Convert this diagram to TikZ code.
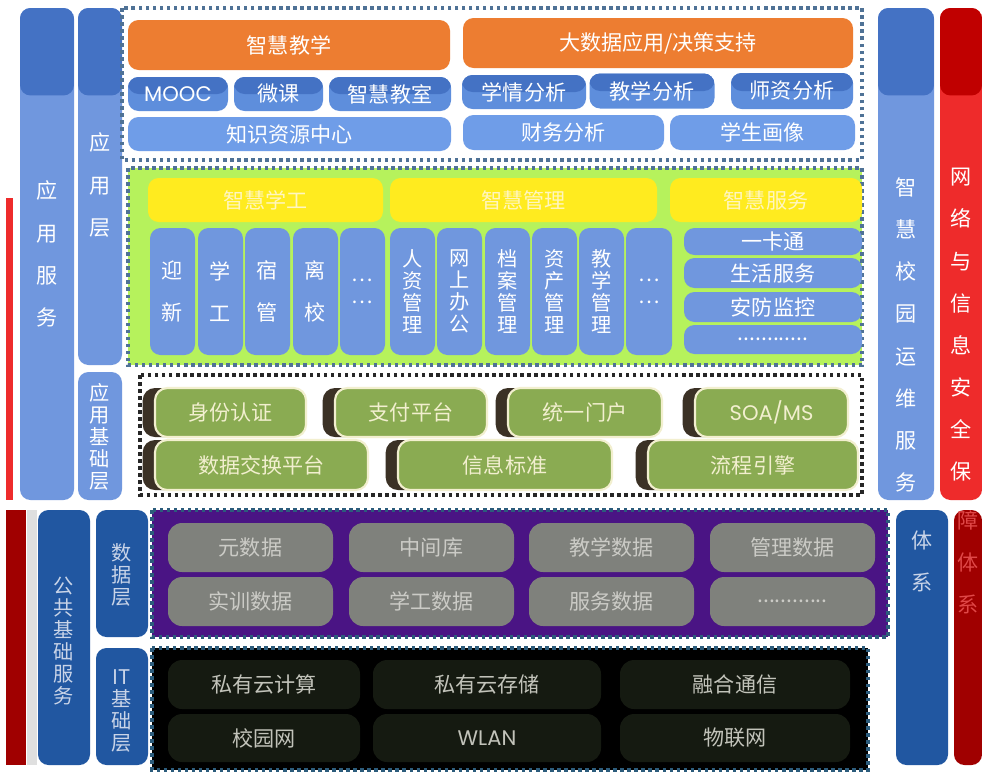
\documentclass[tikz,border=0pt]{standalone}
\usepackage{fontspec}
\setmainfont{Noto Sans CJK SC}
\newfontfamily\geofont{Poppins}
\usetikzlibrary{positioning}

\definecolor{orangeA}{HTML}{ED7D31}
\definecolor{blueDk}{HTML}{4472C4}
\definecolor{blueMd}{HTML}{5E8EDC}
\definecolor{blueLt}{HTML}{6F9DE8}
\definecolor{colBlue}{HTML}{7097DE}
\definecolor{limeBg}{HTML}{B6F25C}
\definecolor{yellowA}{HTML}{FFEB1F}
\definecolor{yellowTx}{HTML}{FFF6C0}
\definecolor{oliveA}{HTML}{8AAB52}
\definecolor{creamA}{HTML}{F2EFCF}
\definecolor{capBrown}{HTML}{3B3125}
\definecolor{purpleA}{HTML}{4A1484}
\definecolor{grayBox}{HTML}{7F817C}
\definecolor{grayTx}{HTML}{CBCBC6}
\definecolor{itBox}{HTML}{151A11}
\definecolor{itTx}{HTML}{C2C3BA}
\definecolor{navyA}{HTML}{2157A1}
\definecolor{navyTx}{HTML}{C9D4E8}
\definecolor{redA}{HTML}{EE2B2B}
\definecolor{redDk}{HTML}{C00000}
\definecolor{redLw}{HTML}{A00000}
\definecolor{redTx}{HTML}{E04848}
\definecolor{frameBlue}{HTML}{4F7296}
\definecolor{frameTeal}{HTML}{2C5C7C}

\begin{document}
\begin{tikzpicture}[
    x=0.02cm, y=-0.02cm,
    every node/.style={font=\fontsize{12}{14}\selectfont, inner sep=0pt},
    sz/.style 2 args={minimum width=#1*0.02cm, minimum height=#2*0.02cm},
    dotbox/.style={draw=#1, line width=2pt, dash pattern=on 2pt off 2pt},
    topdark/.style={path picture={\fill[#1] (path picture bounding box.north west) rectangle ([yshift=-1.75cm]path picture bounding box.north east);}},
    halfdark/.style={path picture={\fill[blueDk] (path picture bounding box.north west) rectangle (path picture bounding box.east);}},
    obox/.style={fill=orangeA, rounded corners=6pt, text=white},
    bbox/.style={fill=blueMd, halfdark, rounded corners=6pt, text=white},
    lbox/.style={fill=blueLt, rounded corners=6pt, text=white},
    ybox/.style={fill=yellowA, rounded corners=6pt, text=yellowTx},
    cbox/.style={fill=colBlue, rounded corners=6pt, text=white, align=center},
    gbox/.style={fill=oliveA, draw=creamA, line width=1.2pt, rounded corners=7pt, text=creamA,
        preaction={fill=capBrown, draw=none, transform canvas={xshift=-7pt}}},
    dbox/.style={fill=grayBox, rounded corners=8pt, text=grayTx},
    ibox/.style={fill=itBox, rounded corners=8pt, text=itTx},
    vcol/.style={rounded corners=6pt},
    wide/.style={font=\fontsize{12}{24}\selectfont, align=center},
    tight/.style={font=\fontsize{11.5}{12.5}\selectfont, align=center}
]
    \useasboundingbox (0,0) rectangle (982,775);
    \fill[white] (0,0) rectangle (982,775);

    % Left side columns
    \fill[redA] (6,198) rectangle (13,500);
    \node[vcol, fill=colBlue, topdark=blueDk, sz={54}{492}] (yyfw) at (47,254) {};
    \node[wide, text=white] (yyfw-t) at (47,254) {应\\用\\服\\务};
    \node[vcol, fill=colBlue, topdark=blueDk, sz={44}{357}] (yyc) at (100,186.5) {};
    \node[wide, text=white] (yyc-t) at (100,185) {应\\用\\层};
    \node[vcol, fill=colBlue, sz={44}{128}] (yyjc) at (100,436) {};
    \node[tight, text=white] (yyjc-t) at (100,437) {应\\用\\基\\础\\层};

    \fill[redLw] (6,510) rectangle (26,765);
    \fill[gray!25] (27,510) rectangle (37,765);
    \node[vcol, fill=navyA, sz={52}{255}] (ggjc) at (64,637.5) {};
    \node[tight, text=navyTx] (ggjc-t) at (64,641) {公\\共\\基\\础\\服\\务};
    \node[vcol, fill=navyA, sz={52}{127}] (sjc) at (122,573.5) {};
    \node[tight, text=navyTx] (sjc-t) at (122,575) {数\\据\\层};
    \node[vcol, fill=navyA, sz={52}{117}] (itc) at (122,706.5) {};
    \node[tight, text=navyTx] (itc-t) at (122,711) {IT\\基\\础\\层};

    % Right side columns
    \node[vcol, fill=colBlue, topdark=blueDk, sz={56}{492}] (ywfw) at (906,254) {};
    \node[wide, text=white] (ywfw-t) at (906,335) {智\\慧\\校\\园\\运\\维\\服\\务};
    \node[vcol, fill=navyA, sz={52}{255}] (ywtx) at (922,637.5) {};
    \node[wide, text=navyTx] (ywtx-t) at (922,561) {体\\系};
    \node[vcol, fill=redA, topdark=redDk, sz={42}{492}] (aq) at (961,254) {};
    \node[wide, text=white] (aq-t) at (961,325) {网\\络\\与\\信\\息\\安\\全\\保};
    \node[vcol, fill=redLw, sz={28}{255}] (aqtx) at (968,637.5) {};
    \node[wide, text=redTx] (aqtx-t) at (968,562) {障\\体\\系};

    % Application layer: teaching and big data
    \draw[dotbox=frameBlue] (122,8) rectangle (862,160);
    \node[obox, sz={322}{50}] (zhjx) at (289,45) {智慧教学};
    \node[obox, sz={390}{50}] (dsj) at (658,43) {大数据应用/决策支持};
    \node[bbox, sz={100}{34}] (mooc) at (178,94) {\geofont MOOC};
    \node[bbox, sz={89}{34}] (wk) at (278.5,94) {微课};
    \node[bbox, sz={122}{34}] (zhjs) at (390,94) {智慧教室};
    \node[bbox, sz={124}{34}] (xqfx) at (524,92) {学情分析};
    \node[bbox, sz={125}{35}] (jxfx) at (652,91) {教学分析};
    \node[bbox, sz={122}{36}] (szfx) at (792,91) {师资分析};
    \node[lbox, sz={323}{34}] (zszy) at (289.5,134) {知识资源中心};
    \node[lbox, sz={201}{35}] (cwfx) at (563.5,132.5) {财务分析};
    \node[lbox, sz={185}{35}] (xshx) at (762.5,132.5) {学生画像};

    % Application layer: student affairs, management, services
    \fill[limeBg] (128,168) rectangle (862,365);
    \draw[dotbox=frameBlue] (128,168) rectangle (862,365);
    \node[ybox, sz={235}{44}] (zhxg) at (265.5,200) {智慧学工};
    \node[ybox, sz={267}{44}] (zhgl) at (523.5,200) {智慧管理};
    \node[ybox, sz={192}{44}] (zhfw) at (766,200) {智慧服务};

    \node[cbox, wide, sz={45}{127}] (yx) at (172.5,291.5) {迎\\新};
    \node[cbox, wide, sz={45}{127}] (xg) at (220.5,291.5) {学\\工};
    \node[cbox, wide, sz={45}{127}] (sg) at (267.5,291.5) {宿\\管};
    \node[cbox, wide, sz={45}{127}] (lx) at (315.5,291.5) {离\\校};
    \node[cbox, tight, sz={45}{127}] (xgmore) at (362.5,291.5) {…\\…};

    \node[cbox, tight, sz={45}{127}] (rzgl) at (412.5,291.5) {人\\资\\管\\理};
    \node[cbox, tight, sz={45}{127}] (wsbg) at (459.5,291.5) {网\\上\\办\\公};
    \node[cbox, tight, sz={45}{127}] (dagl) at (507.5,291.5) {档\\案\\管\\理};
    \node[cbox, tight, sz={45}{127}] (zcgl) at (554.5,291.5) {资\\产\\管\\理};
    \node[cbox, tight, sz={45}{127}] (jxgl) at (601.5,291.5) {教\\学\\管\\理};
    \node[cbox, tight, sz={46}{127}] (glmore) at (649,291.5) {…\\…};

    \node[cbox, sz={178}{27}] (ykt) at (773,241.5) {一卡通};
    \node[cbox, sz={178}{30}] (shfw) at (773,273) {生活服务};
    \node[cbox, sz={178}{30}] (afjk) at (773,307) {安防监控};
    \node[cbox, sz={178}{29}] (fwmore) at (773,339.5) {............};

    % Application foundation layer
    \draw[dotbox=black!85] (140,375) rectangle (862,495);
    \node[gbox, sz={151}{49}] (sfrz) at (230.5,412.5) {身份认证};
    \node[gbox, sz={152}{49}] (zfpt) at (411,412.5) {支付平台};
    \node[gbox, sz={154}{49}] (tymh) at (585,412.5) {统一门户};
    \node[gbox, sz={153}{49}] (soa) at (771.5,412.5) {\geofont SOA/MS};
    \node[gbox, sz={213}{50}] (sjjh) at (261.5,465) {数据交换平台};
    \node[gbox, sz={214}{50}] (xxbz) at (505,465) {信息标准};
    \node[gbox, sz={210}{50}] (lcyq) at (753,465) {流程引擎};

    % Data layer
    \fill[purpleA] (152,510) rectangle (888,637);
    \draw[dotbox=frameTeal] (152,510) rectangle (888,637);
    \node[dbox, sz={165}{49}] (ysj) at (250.5,547.5) {元数据};
    \node[dbox, sz={165}{49}] (zjk) at (431.5,547.5) {中间库};
    \node[dbox, sz={165}{49}] (jxsj) at (611.5,547.5) {教学数据};
    \node[dbox, sz={165}{49}] (glsj) at (792.5,547.5) {管理数据};
    \node[dbox, sz={165}{49}] (sxsj) at (250.5,601.5) {实训数据};
    \node[dbox, sz={165}{49}] (xgsj) at (431.5,601.5) {学工数据};
    \node[dbox, sz={165}{49}] (fwsj) at (611.5,601.5) {服务数据};
    \node[dbox, sz={165}{49}] (sjmore) at (792.5,601.5) {............};

    % IT infrastructure layer
    \fill[black] (152,648) rectangle (868,770);
    \draw[dotbox=frameTeal] (152,648) rectangle (868,770);
    \node[ibox, sz={192}{49}] (yjs) at (264,684.5) {私有云计算};
    \node[ibox, sz={228}{49}] (ycc) at (487,684.5) {私有云存储};
    \node[ibox, sz={230}{49}] (rhtx) at (735,684.5) {融合通信};
    \node[ibox, sz={192}{48}] (xyw) at (264,738) {校园网};
    \node[ibox, sz={228}{48}] (wlan) at (487,738) {\geofont WLAN};
    \node[ibox, sz={230}{48}] (wlw) at (735,738) {物联网};

\end{tikzpicture}
\end{document}
